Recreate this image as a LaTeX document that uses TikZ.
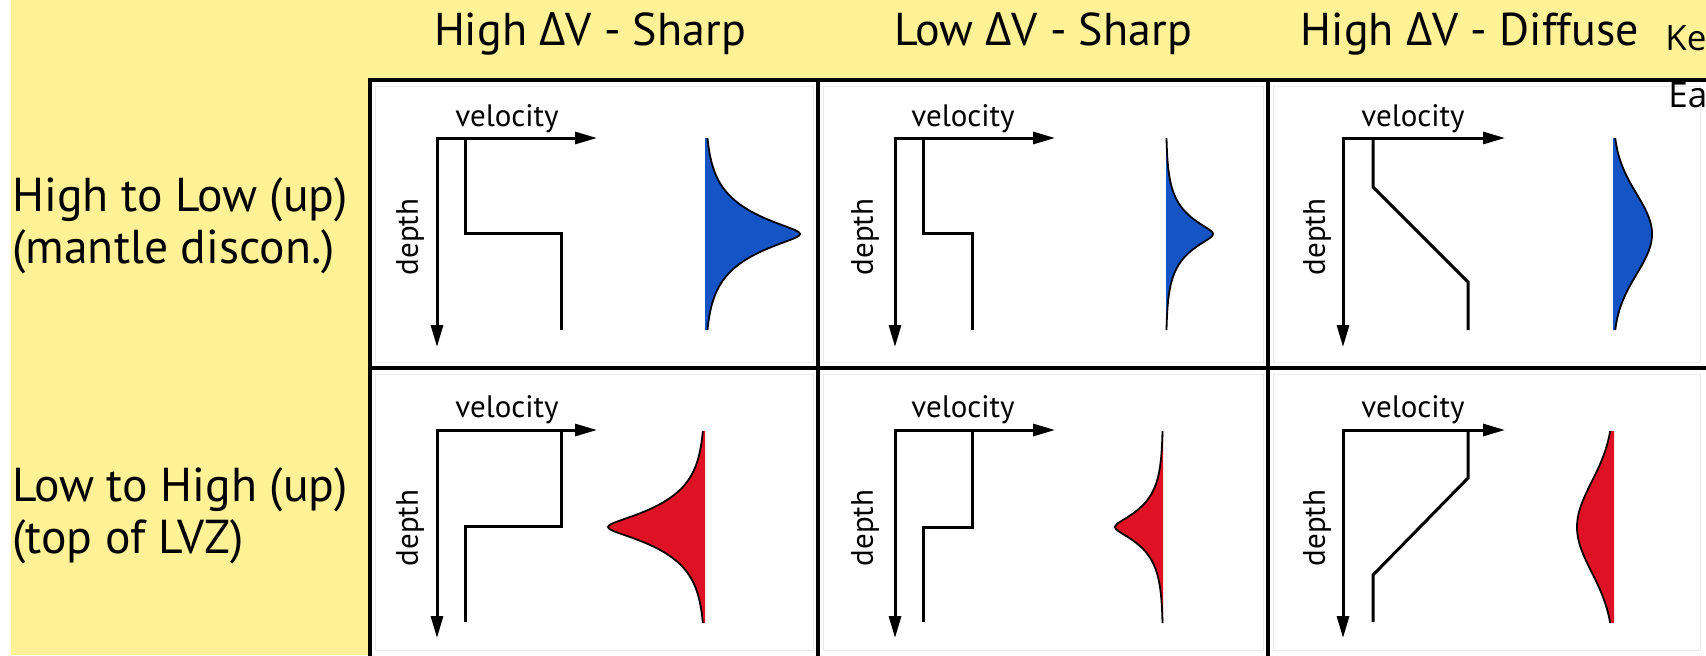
\documentclass[tikz,border=0pt]{standalone}
\usepackage{fontspec}
\setmainfont{PT Sans}
\newfontfamily\gkfont{Open Sans}
\newfontfamily\kefont{Open Sans}
\usetikzlibrary{arrows.meta}
\definecolor{bgyellow}{RGB}{255,241,150}
\definecolor{wblue}{RGB}{20,84,196}
\definecolor{wred}{RGB}{222,18,36}
\newcommand{\mysharp}[5]{%
  \fill[#5] (#1,#2-96) -- plot[domain=-96:96,samples=121,smooth] ({#1+(#3)*exp(-(sqrt(\x*\x+25)-5)/#4)},{#2+\x}) -- (#1,#2+96) -- cycle;
  \draw[waveline] plot[domain=-96:96,samples=121,smooth] ({#1+(#3)*exp(-(sqrt(\x*\x+25)-5)/#4)},{#2+\x});
}
\newcommand{\mygauss}[5]{%
  \fill[#5] (#1,#2-96) -- plot[domain=-96:96,samples=97,smooth] ({#1+(#3)*exp(-(\x*\x)/(2*#4*#4))},{#2+\x}) -- (#1,#2+96) -- cycle;
  \draw[waveline] plot[domain=-96:96,samples=97,smooth] ({#1+(#3)*exp(-(\x*\x)/(2*#4*#4))},{#2+\x});
}
\tikzset{
  gridline/.style={line width=2pt, line cap=rect},
  axes/.style={line width=1.5pt, line join=miter, {Triangle[length=11pt,width=6pt]}-{Triangle[length=11pt,width=6pt]}},
  profile/.style={line width=1.5pt, line join=miter},
  waveline/.style={line width=0.9pt},
  head/.style={font=\fontsize{23}{27}\selectfont, anchor=base, inner sep=0pt},
  rowlabel/.style={font=\fontsize{23.8}{26}\selectfont, align=left, anchor=west, inner sep=0pt},
  vlabel/.style={font=\fontsize{15.5}{18}\selectfont, anchor=base, inner sep=0pt},
  dlabel/.style={font=\fontsize{15.5}{18}\selectfont, rotate=90, inner sep=0pt},
  keytext/.style={font=\kefont\fontsize{17.5}{20}\selectfont, anchor=base west, inner sep=0pt},
  innerframe/.style={draw=black!8, line width=0.5pt},
}
\begin{document}
\begin{tikzpicture}[x=0.5pt,y=-0.5pt]
\useasboundingbox (0,0) rectangle (1706,655);
\clip (0,0) rectangle (1706,655);
\fill[white] (0,0) rectangle (1706,655);
\fill[bgyellow] (11,0) rectangle (1706,655);
\fill[white] (370,80) rectangle (1706,655);
% faint inner frames
\draw[innerframe] (375,86) rectangle (813,362);
\draw[innerframe] (823,86) rectangle (1263,362);
\draw[innerframe] (1273,86) rectangle (1700,362);
\draw[innerframe] (375,374) rectangle (813,650);
\draw[innerframe] (823,374) rectangle (1263,650);
\draw[innerframe] (1273,374) rectangle (1700,650);
% grid
\draw[gridline] (370,80) -- (1706,80);
\draw[gridline] (370,368) -- (1706,368);
\draw[gridline] (370,80) -- (370,655);
\draw[gridline] (818,80) -- (818,655);
\draw[gridline] (1268,80) -- (1268,655);
% headers
\node[head] (h1) at (590,45) {High {\gkfont Δ}V - Sharp};
\node[head] (h2) at (1043,45) {Low {\gkfont Δ}V - Sharp};
\node[head] (h3) at (1470,45) {High {\gkfont Δ}V - Diffuse};
\node[keytext] (ke) at (1665,50) {Ke};
\node[keytext] (ea) at (1668,107) {Ea};
% row labels
\node[rowlabel] (r1) at (12,226) {High to Low (up)\\(mantle discon.)};
\node[rowlabel] (r2) at (12,516) {Low to High (up)\\(top of LVZ)};
% ---- cell A
\coordinate (oA) at (437,138); \coordinate (vA) at (597,138); \coordinate (dA) at (437,347);
\draw[axes] (dA) -- (oA) -- (vA);
\node[vlabel] (velA) at (507,126) {velocity};
\node[dlabel] (depA) at (410,237) {depth};
\draw[profile] (465,138) -- (465,233) -- (561,233) -- (561,330);
\mysharp{705}{234}{95}{25}{wblue}
% ---- cell B
\coordinate (oB) at (895,138); \coordinate (vB) at (1055,138); \coordinate (dB) at (895,347);
\draw[axes] (dB) -- (oB) -- (vB);
\node[vlabel] (velB) at (963,126) {velocity};
\node[dlabel] (depB) at (865,237) {depth};
\draw[profile] (923,138) -- (923,233) -- (972,233) -- (972,330);
\mysharp{1166}{234}{47}{20}{wblue}
% ---- cell C
\coordinate (oC) at (1343,138); \coordinate (vC) at (1505,138); \coordinate (dC) at (1343,347);
\draw[axes] (dC) -- (oC) -- (vC);
\node[vlabel] (velC) at (1413,126) {velocity};
\node[dlabel] (depC) at (1317,237) {depth};
\draw[profile] (1373,138) -- (1373,187) -- (1468,282) -- (1468,330);
\mygauss{1613}{234}{39}{40}{wblue}
% ---- cell D
\coordinate (oD) at (437,430); \coordinate (vD) at (597,430); \coordinate (dD) at (437,638);
\draw[axes] (dD) -- (oD) -- (vD);
\node[vlabel] (velD) at (507,417) {velocity};
\node[dlabel] (depD) at (410,528) {depth};
\draw[profile] (561,430) -- (561,526) -- (465,526) -- (465,622);
\mysharp{705}{527}{-97}{24}{wred}
% ---- cell E
\coordinate (oE) at (895,430); \coordinate (vE) at (1055,430); \coordinate (dE) at (895,638);
\draw[axes] (dE) -- (oE) -- (vE);
\node[vlabel] (velE) at (963,417) {velocity};
\node[dlabel] (depE) at (865,528) {depth};
\draw[profile] (972,430) -- (972,527) -- (923,527) -- (923,622);
\mysharp{1163}{527}{-48}{20}{wred}
% ---- cell F
\coordinate (oF) at (1343,430); \coordinate (vF) at (1505,430); \coordinate (dF) at (1343,638);
\draw[axes] (dF) -- (oF) -- (vF);
\node[vlabel] (velF) at (1413,417) {velocity};
\node[dlabel] (depF) at (1317,528) {depth};
\draw[profile] (1468,430) -- (1468,478) -- (1373,575) -- (1373,622);
\mygauss{1614}{527}{-37}{45}{wred}
\end{tikzpicture}
\end{document}
